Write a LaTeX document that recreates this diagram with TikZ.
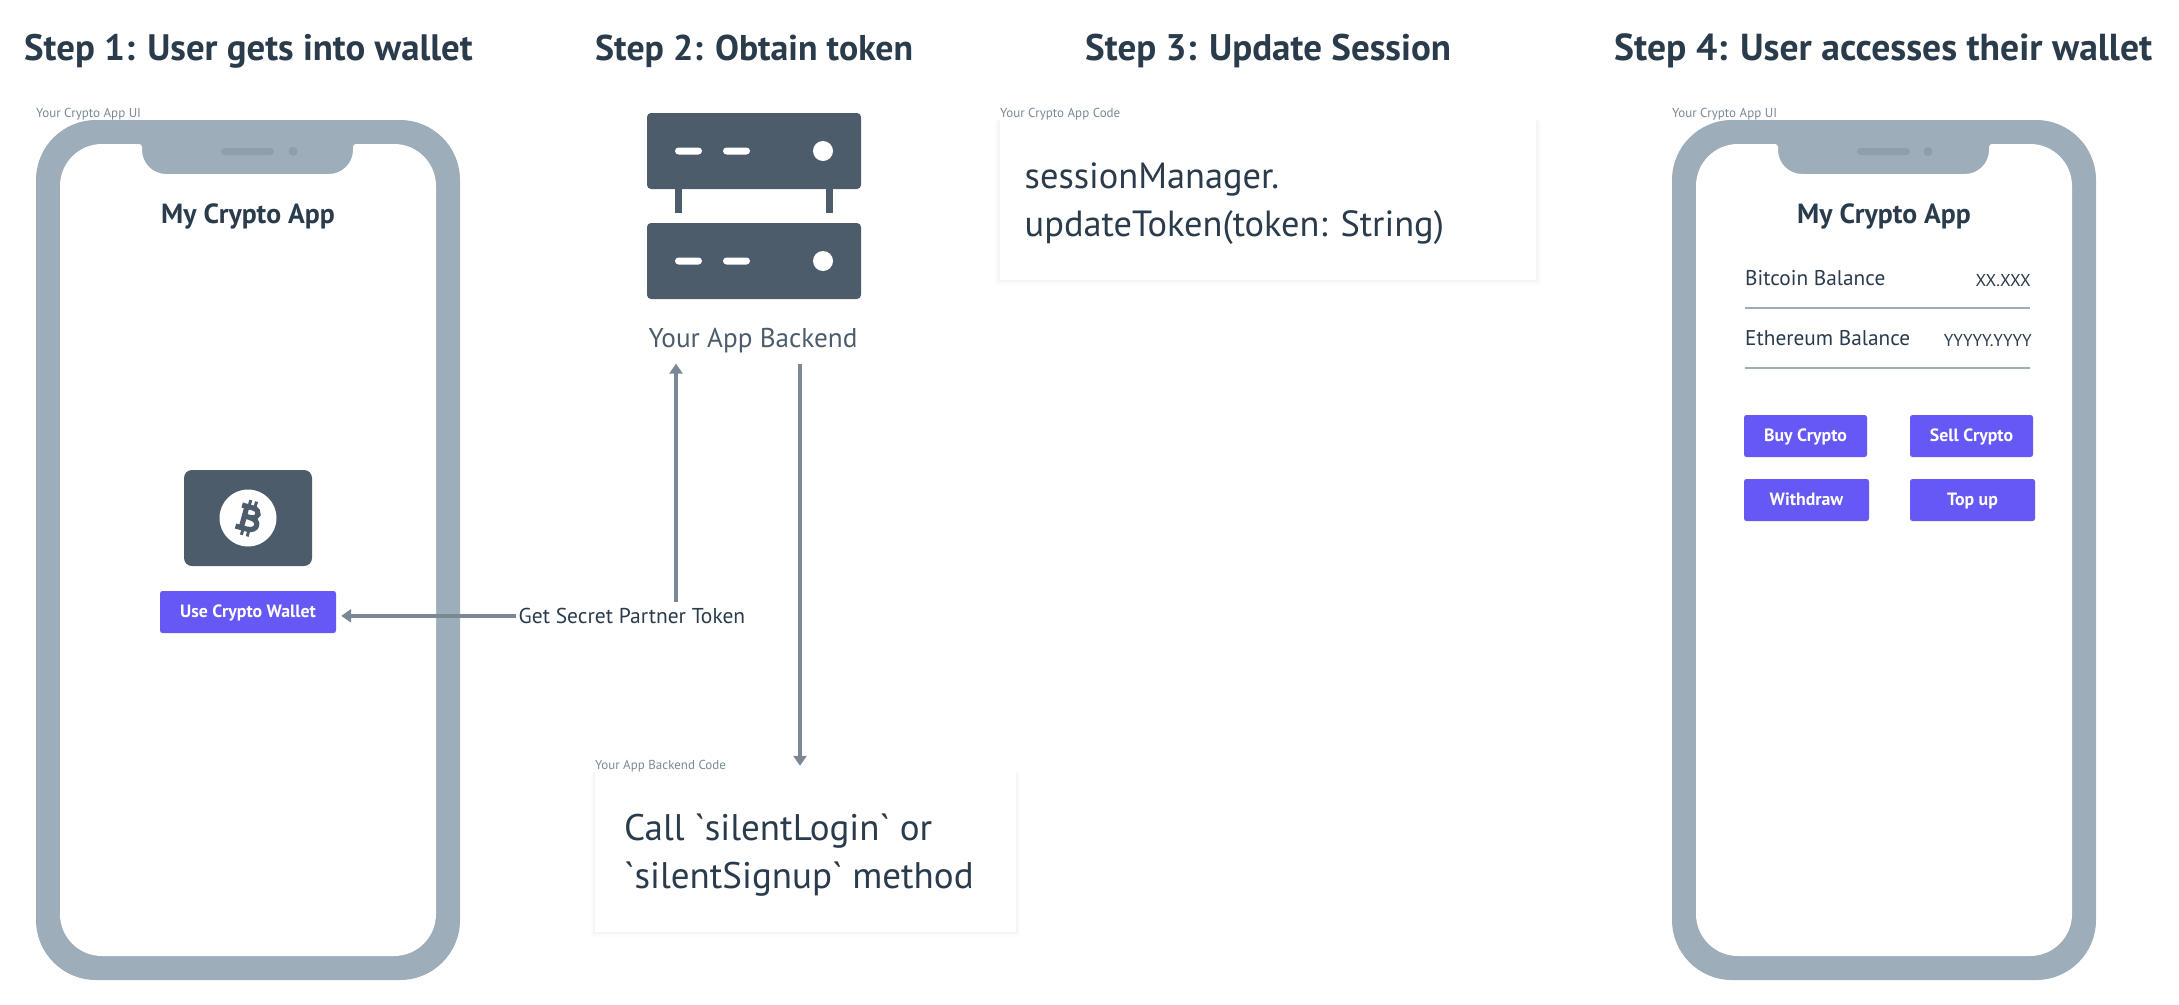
\documentclass[tikz,border=0pt]{standalone}
\usepackage{fontspec}
\setmainfont{PT Sans}
\newfontfamily\dinfont{PT Sans}
\usetikzlibrary{arrows.meta,shadows}
\definecolor{ink}{HTML}{2A3B4C}
\definecolor{slate}{HTML}{4D5C6B}
\definecolor{frame}{HTML}{9EADBA}
\definecolor{frameshade}{HTML}{8E9EAC}
\definecolor{wire}{HTML}{7A8896}
\definecolor{violet}{HTML}{6558F5}
\begin{document}
\begin{tikzpicture}[x=1pt,y=-1pt]
	\tikzstyle{steptitle} = [anchor=base west,inner sep=0,text=ink,font=\bfseries\fontsize{#1}{#1}\selectfont]
	\tikzstyle{apptitle} = [anchor=base,inner sep=0,text=ink,font=\bfseries\fontsize{27.7}{27.7}\selectfont]
	\tikzstyle{caption} = [anchor=base west,inner sep=0,text=wire,font=\fontsize{13}{13}\selectfont]
	\tikzstyle{balance} = [anchor=base west,inner sep=0,text=ink,font=\fontsize{21.3}{21.3}\selectfont]
	\tikzstyle{amount} = [anchor=base east,inner sep=0,text=ink,font=\fontsize{17.2}{17.2}\selectfont]
	\tikzstyle{btn} = [fill=violet,text=white,rounded corners=2.5pt,inner sep=0,minimum height=42,text height=14pt,text depth=3pt,font=\bfseries\fontsize{17.8}{17.8}\selectfont]
	\tikzstyle{codebox} = [fill=white,general shadow={shadow xshift=0pt,shadow yshift=-3pt,shadow scale=1.02,opacity=0.025,fill=slate},general shadow={shadow xshift=0pt,shadow yshift=-1pt,shadow scale=1.008,opacity=0.04,fill=slate},minimum height=160]
	\tikzstyle{codetext} = [anchor=west,inner sep=0,align=left,text=ink,font=\dinfont\fontsize{#1}{48}\selectfont]
	\tikzstyle{wired} = [draw=wire,line width=4pt,-{Triangle[length=10pt,width=13pt]}]
	\useasboundingbox (0,0) rectangle (2179,1004);

	\node[steptitle=36.8] (step1) at (24,60) {Step 1: User gets into wallet};
	\node[steptitle=35.8] (step2) at (595,60) {Step 2: Obtain token};
	\node[steptitle=37] (step3) at (1085,60) {Step 3: Update Session};
	\node[steptitle=37.6] (step4) at (1614,60) {Step 4: User accesses their wallet};

	\node[caption] (ui1) at (36,117) {Your Crypto App UI};
	\fill[frame,rounded corners=60] (36,120) rectangle (460,980);
	\fill[white] (60,550) [rounded corners=42] -- (60,144) [rounded corners=3] -- (142,144) [rounded corners=24] -- (142,174) -- (353,174) [rounded corners=3] -- (353,144) [rounded corners=42] -- (436,144) -- (436,956) -- (60,956) -- cycle;
	\fill[frameshade,rounded corners=3.5] (221,148) rectangle (274,155);
	\fill[frameshade] (293,151.5) circle (4.5);
	\node[apptitle] (app1) at (248,223) {My Crypto App};

	\fill[slate,rounded corners=8] (184,470) rectangle (312,566);
	\fill[white] (248,518) circle (28.5);
	\begin{scope}[shift={(248,518)},rotate=-15]
		\draw[slate,line width=5.2pt] (-9,-11) -- (2,-11) .. controls (11,-11) and (11,-1) .. (2,-1) -- (-4,-1);
		\draw[slate,line width=5.2pt] (2,-1) .. controls (13,-1) and (13,11) .. (2,11) -- (-10,11);
		\draw[slate,line width=5.2pt] (-4,-11) -- (-4,11);
		\draw[slate,line width=3pt] (-2,-11) -- (-2,-18) (4,-11) -- (4,-18) (-2,11) -- (-2,18) (4,11) -- (4,18);
	\end{scope}
	\node[btn,minimum width=176] (wallet) at (248,612) {Use Crypto Wallet};

	\fill[slate,rounded corners=4] (647,113) rectangle (861,189);
	\fill[slate,rounded corners=4] (647,223) rectangle (861,299);
	\fill[slate] (675,189) rectangle (682,213);
	\fill[slate] (826,189) rectangle (833,213);
	\fill[white,rounded corners=3.5] (675,147.5) rectangle (702,154.5);
	\fill[white,rounded corners=3.5] (723,147.5) rectangle (750,154.5);
	\fill[white] (823,151) circle (10);
	\fill[white,rounded corners=3.5] (675,257.5) rectangle (702,264.5);
	\fill[white,rounded corners=3.5] (723,257.5) rectangle (750,264.5);
	\fill[white] (823,261) circle (10);
	\node[anchor=base,inner sep=3pt,text=slate,font=\fontsize{27.2}{27.2}\selectfont] (backend) at (753,347) {Your App Backend};

	\node[anchor=base west,inner sep=3pt,text=ink,text depth=1pt,font=\fontsize{21.5}{21.5}\selectfont] (token) at (515.5,623) {Get Secret Partner Token};
	\coordinate (upaxis) at (676,0);
	\coordinate (downaxis) at (800,0);

	\node[caption] (backendcap) at (595,769) {Your App Backend Code};
	\node[codebox,minimum width=421] (backendcode) at (805.5,852) {};
	\node[codetext=37] (backendtext) at (624,855) {Call `silentLogin` or\\`silentSignup` method};

	\node[caption] (appcap) at (1000,117) {Your Crypto App Code};
	\node[codebox,minimum width=536] (appcode) at (1268,200) {};
	\node[codetext=36.4] (apptext) at (1024.5,204) {sessionManager.\\updateToken(token: String)};

	\path (token.west) edge[wired,shorten >=5pt] (token.west -| wallet.east);
	\path (token.north -| upaxis) edge[wired,shorten <=3pt,shorten >=8pt] (backend.south -| upaxis);
	\path (backend.south -| downaxis) edge[wired,shorten <=8pt,shorten >=6pt] (backendcode.north -| downaxis);

	\node[caption] (ui4) at (1672,117) {Your Crypto App UI};
	\fill[frame,rounded corners=60] (1672,120) rectangle (2096,980);
	\fill[white] (1696,550) [rounded corners=42] -- (1696,144) [rounded corners=3] -- (1778,144) [rounded corners=24] -- (1778,174) -- (1989,174) [rounded corners=3] -- (1989,144) [rounded corners=42] -- (2072,144) -- (2072,956) -- (1696,956) -- cycle;
	\fill[frameshade,rounded corners=3.5] (1857,148) rectangle (1910,155);
	\fill[frameshade] (1928,151.5) circle (4.5);
	\node[apptitle] (app4) at (1884,223) {My Crypto App};

	\node[balance] (btclabel) at (1745,285) {Bitcoin Balance};
	\node[amount] (btcvalue) at (2031,286) {XX.XXX};
	\draw[frame,line width=2pt] (1745,308) -- (2030,308);
	\node[balance] (ethlabel) at (1745,345) {Ethereum Balance};
	\node[amount] (ethvalue) at (2032,346) {YYYYY.YYYY};
	\draw[frame,line width=2pt] (1745,368) -- (2030,368);

	\node[btn,minimum width=123] (buy) at (1805.5,436) {Buy Crypto};
	\node[btn,minimum width=123] (sell) at (1971.5,436) {Sell Crypto};
	\node[btn,minimum width=125] (withdraw) at (1806.5,500) {Withdraw};
	\node[btn,minimum width=125] (topup) at (1972.5,500) {Top up};
\end{tikzpicture}
\end{document}
